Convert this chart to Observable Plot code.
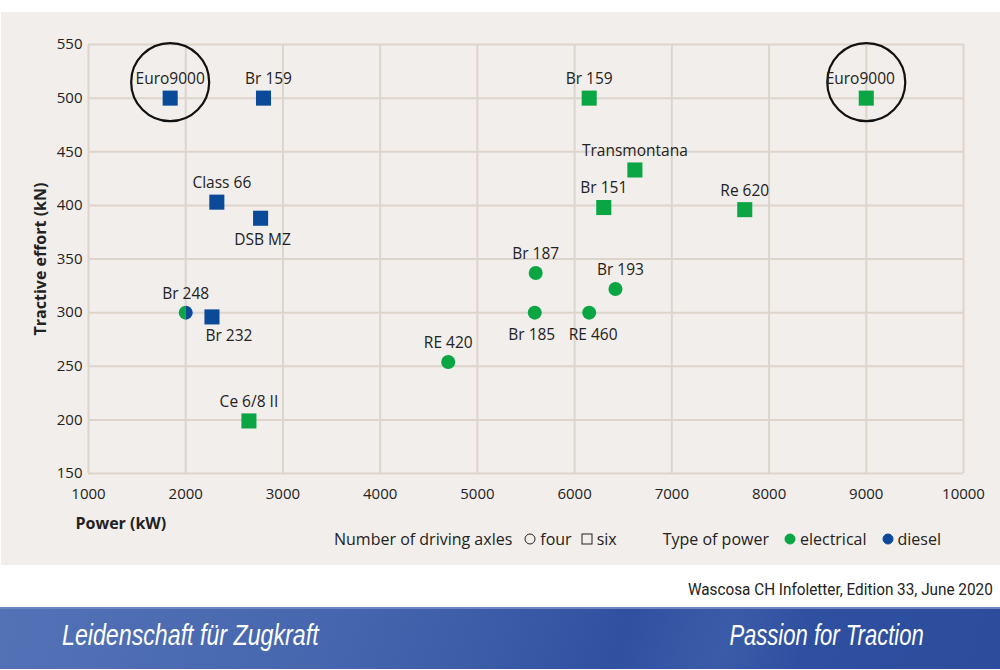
<!DOCTYPE html>
<html><head><meta charset="utf-8">
<script src="https://cdn.jsdelivr.net/npm/d3@7"></script>
<script src="https://cdn.jsdelivr.net/npm/@observablehq/plot@0.6"></script>
<style>
body{margin:0;background:#fff;font-family:"Open Sans",sans-serif;width:1000px;height:670px;overflow:hidden;position:relative}
#panel{position:absolute;left:1px;top:12px;width:999px;height:553px;background:#f2eeeb}
#chart{position:absolute;left:-1px;top:0}
#legend{position:absolute;left:333px;top:516px;height:22px;display:flex;align-items:center;font-size:16px;color:#222;white-space:nowrap}
#legend svg{margin:0 4px 0 0}
#caption{position:absolute;right:7px;top:579px;font-family:Roboto,sans-serif;font-size:17px;color:#222;transform:scaleX(0.9);transform-origin:right center;white-space:nowrap}
#banner{position:absolute;left:0;top:607px;width:1000px;height:62px;
 background:linear-gradient(108deg,#5372b6 0%,#4565ae 35%,#3a5ba7 50%,#2f51a0 62%,#3a5ca8 72%,#2f50a0 80%,#2c4c9c 100%);
 border-top:2px solid #6c86c2;box-sizing:border-box}
#banner span{position:absolute;top:10px;color:#fff;font-family:"Liberation Sans",sans-serif;font-style:italic;font-size:29px;white-space:nowrap}
</style></head>
<body>
<div id="panel"><div id="chart"></div>
<div id="legend"></div></div>
<div id="caption">Wascosa CH Infoletter, Edition 33, June 2020</div>
<div id="banner"><span style="left:62px;transform:scaleX(0.8);transform-origin:left center">Leidenschaft für Zugkraft</span><span style="right:76px;transform:scaleX(0.76);transform-origin:right center">Passion for Traction</span></div>
<script>
// Data
const names  = ["Euro9000","Br 159","Class 66","DSB MZ","Br 248","Br 232","Ce 6/8 II","RE 420","Br 187","Br 185","RE 460","Br 193","Br 151","Transmontana","Re 620","Br 159","Euro9000"];
const power  = [1840,2800,2320,2770,2000,2270,2650,4700,5600,5590,6150,6420,6300,6620,7750,6150,9000];
const effort = [500,500,403,388,300,296,199,254,337,300,300,322,398,433,396,500,500];
const axles  = ["six","six","six","six","four","six","six","four","four","four","four","four","six","six","six","six","six"];
const ptype  = ["diesel","diesel","diesel","diesel","dual","diesel","electrical","electrical","electrical","electrical","electrical","electrical","electrical","electrical","electrical","electrical","electrical"];
const labelSide = ["top","topright","topright","bottom","top","farbottomright","top","top","top","bottomleft","bottomright","topright","top","top","top","top","topleft"];
const highlighted = ["Euro9000"];
const xTicks = [1000,2000,3000,4000,5000,6000,7000,8000,9000,10000];
const yTicks = [150,200,250,300,350,400,450,500,550];
const typeDomain = ["electrical","diesel"];
const typeColors = ["#0aa643","#0a4a98"];

const data = names.map((n,i)=>({name:n,power:power[i],effort:effort[i],axles:axles[i],type:ptype[i],side:labelSide[i]}));
const colorOf = t => typeColors[typeDomain.indexOf(t)];

const halfLeft = {draw(ctx,size){const r=Math.sqrt(size/Math.PI);ctx.moveTo(0,-r);ctx.arc(0,0,r,-Math.PI/2,Math.PI/2,true);ctx.closePath();}};
const halfRight = {draw(ctx,size){const r=Math.sqrt(size/Math.PI);ctx.moveTo(0,-r);ctx.arc(0,0,r,-Math.PI/2,Math.PI/2,false);ctx.closePath();}};

const single = data.filter(d=>d.type!=="dual");
const dual = data.filter(d=>d.type==="dual");

// label placement offsets (style)
const offsets = {top:[0,-19],topright:[5,-19],topleft:[-6,-19],bottom:[2,22],bottomleft:[-3,22],bottomright:[4,22],farbottomright:[17,19]};
const labelMarks = Object.entries(offsets).map(([side,[dx,dy]]) =>
  Plot.text(data.filter(d=>d.side===side),{x:"power",y:"effort",text:"name",dx,dy,fontSize:15.5,fill:"#222"}));

const plot = Plot.plot({
  width:1000, height:524,
  marginTop:32, marginBottom:63, marginLeft:88, marginRight:37,
  style:{background:"transparent",fontFamily:"Open Sans",fontSize:"15px",color:"#222"},
  x:{domain:[1000,10000], label:null},
  y:{domain:[150,550], label:null},
  marks:[
    Plot.gridX(xTicks,{stroke:"#ddd4cc",strokeWidth:2,strokeOpacity:1}),
    Plot.gridY(yTicks,{stroke:"#ddd4cc",strokeWidth:2,strokeOpacity:1}),
    Plot.axisX({ticks:xTicks,tickFormat:d3.format("d"),tickSize:0,tickPadding:15,fontSize:15,label:null}),
    Plot.axisY({ticks:yTicks,tickSize:0,tickPadding:6,fontSize:15,label:null}),
    Plot.text(["Power (kW)"],{frameAnchor:"bottom-left",dx:-13,dy:50,fontWeight:"bold",fontSize:16,textAnchor:"start",lineAnchor:"middle"}),
    Plot.text(["Tractive effort (kN)"],{frameAnchor:"left",dx:-48,rotate:-90,fontWeight:"bold",fontSize:16,textAnchor:"middle",lineAnchor:"middle"}),
    Plot.dot(single.filter(d=>d.axles==="six"),{x:"power",y:"effort",symbol:"square",r:8.5,fill:d=>colorOf(d.type),stroke:null}),
    Plot.dot(single.filter(d=>d.axles==="four"),{x:"power",y:"effort",symbol:"circle",r:7,fill:d=>colorOf(d.type),stroke:null}),
    Plot.dot(dual,{x:"power",y:"effort",symbol:halfLeft,r:7,fill:typeColors[0]}),
    Plot.dot(dual,{x:"power",y:"effort",symbol:halfRight,r:7,fill:typeColors[1]}),
    Plot.dot(data.filter(d=>highlighted.includes(d.name)),{x:"power",y:"effort",r:39,dy:-16,stroke:"#111",strokeWidth:2.2,fill:"none"}),
    ...labelMarks
  ]
});
document.getElementById("chart").append(plot);

// Legend
const lg = document.getElementById("legend");
const icon = (shape,fill,stroke) => {
  const s = shape==="circle"
    ? `<circle cx="6" cy="6" r="5" fill="${fill}" stroke="${stroke}" stroke-width="1"/>`
    : `<rect x="1" y="1" width="10" height="10" fill="${fill}" stroke="${stroke}" stroke-width="1"/>`;
  return `<svg width="12" height="12">${s}</svg>`;
};
const axDomain = ["four","six"], axShapes=["circle","square"];
let html = `<span style="margin-right:12px">Number of driving axles</span>`;
axDomain.forEach((a,i)=>{ html += icon(axShapes[i],"none","#222") + `<span style="margin-right:${i===0?9:46}px">${a}</span>`; });
html += `<span style="margin-right:15px">Type of power</span>`;
typeDomain.forEach((t,i)=>{ html += icon("circle",typeColors[i],typeColors[i]) + `<span style="margin-right:15px">${t}</span>`; });
lg.innerHTML = html;
</script>
</body></html>
